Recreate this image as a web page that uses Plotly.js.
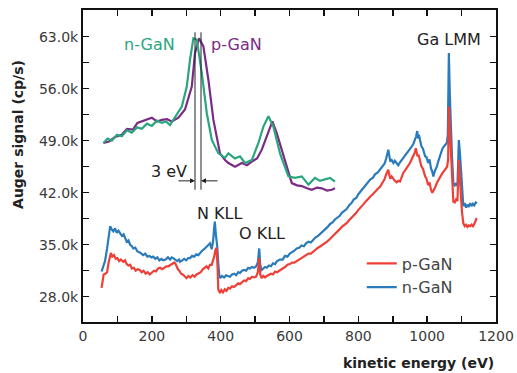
<!DOCTYPE html>
<html>
<head>
<meta charset="utf-8">
<script src="https://cdn.plot.ly/plotly-3.0.1.min.js"></script>
<style>html,body{margin:0;padding:0;background:#fff;}#chart{width:517px;height:373px;}</style>
</head>
<body>
<div id="chart"></div>
<script>
// Main spectra: kinetic energy (eV) and Auger signal (k cp/s)
const nGaN_E = [54,58,64,70,75,79,83,88,93,98,103,108,113,118,123,127,132,137,142,146,152,158,164,170,175,181,187,193,199,204,210,216,222,228,233,240,247,253,258,262,268,274,279,282,288,294,300,306,311,317,323,329,335,340,346,352,358,363,369,374,378,381,383,386,390,393,396,399,404,410,416,421,427,433,439,445,451,456,462,468,474,480,485,491,497,503,508,512,515,519,524,529,534,540,546,552,558,564,572,580,587,594,601,608,614,621,628,635,642,648,655,662,669,676,683,690,697,704,711,718,725,732,739,746,752,759,766,773,780,787,794,800,807,814,821,828,835,842,849,856,863,870,876,881,885,887,890,893,897,902,906,911,916,921,926,931,936,941,946,950,955,960,965,968,971,974,976,979,983,988,991,994,998,1003,1007,1011,1015,1018,1022,1025,1028,1032,1036,1040,1044,1048,1052,1057,1060,1063,1066,1069,1072,1076,1080,1084,1088,1090,1092,1095,1098,1101,1105,1109,1113,1117,1121,1125,1129,1133,1137,1141,1145];
const nGaN_S = [31.4,32.0,32.8,34.5,36.4,37.5,37.1,36.8,37.2,36.6,36.9,36.5,36.2,36.4,35.8,35.4,35.6,35.0,34.8,34.5,34.6,34.1,34.0,33.8,33.6,33.8,33.4,33.5,33.3,33.4,33.1,33.3,32.9,33.1,32.9,33.0,33.3,33.0,33.3,33.2,33.0,32.8,33.0,32.7,32.9,33.1,32.9,33.2,33.2,33.5,33.4,33.7,33.6,33.9,34.2,34.4,34.7,34.9,35.2,34.4,35.5,37.2,38.1,36.4,34.8,32.5,30.9,30.5,30.8,30.6,30.9,30.8,30.7,31.0,31.1,30.9,31.3,31.2,31.5,31.6,31.5,31.9,31.8,32.0,31.9,32.1,32.6,34.5,32.3,31.6,31.8,32.0,31.9,32.2,32.1,32.5,32.4,32.8,33.0,33.0,33.5,33.4,33.8,34.0,34.2,34.5,34.6,34.9,34.8,35.2,35.4,35.3,35.7,36.0,36.2,36.5,36.8,37.0,37.4,37.8,38.0,38.4,38.7,38.9,39.3,39.5,39.8,40.3,40.6,41.1,41.3,41.8,42.2,42.7,43.0,43.4,43.8,44.0,44.5,44.7,45.1,45.5,45.9,46.6,47.4,47.8,47.0,46.2,46.4,46.0,46.3,46.0,45.7,46.1,46.4,46.7,46.9,47.3,47.5,47.8,48.2,48.6,49.1,49.6,50.3,49.3,49.8,49.0,48.3,47.9,47.2,46.9,46.8,46.0,46.5,45.3,44.8,44.2,44.9,45.2,45.5,46.2,46.8,47.4,47.9,48.2,48.5,48.7,49.8,60.8,55.0,50.5,47.0,43.3,43.0,43.3,42.9,46.0,49.1,47.5,45.1,42.0,40.2,40.6,40.0,40.4,40.1,40.6,40.2,40.5,40.3,40.7,40.6];

const pGaN_E = [54,57,60,65,70,74,78,81,85,90,95,100,105,110,117,122,127,132,137,142,148,153,159,165,170,176,182,188,194,200,206,212,218,224,230,236,242,248,254,260,265,268,272,276,280,285,290,295,301,306,312,318,324,330,336,342,348,354,359,364,369,374,378,381,385,388,391,393,398,402,407,412,417,422,427,433,439,445,451,456,462,468,474,480,485,491,497,503,508,512,515,519,524,529,534,540,546,552,558,564,572,580,587,594,601,608,614,621,628,635,642,648,655,662,669,676,683,690,697,704,711,718,725,732,739,746,752,759,766,773,780,787,794,800,807,814,821,828,835,842,849,856,863,870,876,881,884,887,890,893,897,902,906,911,916,921,926,931,936,941,946,950,955,960,964,967,970,972,975,979,983,988,991,994,998,1003,1007,1011,1015,1019,1023,1028,1032,1036,1040,1044,1048,1053,1058,1061,1063,1066,1069,1072,1076,1080,1084,1088,1090,1092,1095,1097,1101,1105,1109,1113,1117,1121,1125,1129,1133,1137,1141,1144];
const pGaN_S = [29.2,30.5,31.0,31.1,31.3,32.5,33.6,33.9,33.4,33.6,33.1,33.2,32.8,33.0,32.7,32.9,32.4,32.2,32.3,31.8,31.9,31.5,31.7,31.6,31.3,31.5,31.1,31.3,31.0,31.3,31.5,31.4,31.8,31.9,31.7,31.9,32.1,32.1,32.3,32.4,32.6,32.5,32.0,31.7,31.5,31.1,31.0,30.7,30.5,30.8,30.6,30.9,30.7,31.0,31.2,31.3,31.7,31.9,32.1,31.8,32.3,32.3,32.8,33.4,34.3,34.6,32.0,29.0,28.5,28.9,28.6,29.0,28.8,29.2,29.1,29.4,29.3,29.6,29.8,29.7,30.0,30.2,30.1,30.5,30.4,30.7,30.6,30.7,31.3,33.2,31.0,30.5,30.8,30.6,30.8,30.9,31.1,31.0,31.4,31.3,31.6,31.8,32.0,32.3,32.4,32.6,32.6,32.8,33.1,33.2,33.5,33.6,33.8,33.8,34.1,34.4,34.6,34.8,35.0,35.3,35.5,35.8,36.1,36.5,36.8,37.1,37.4,37.6,37.9,38.3,38.6,39.0,39.3,39.7,40.0,40.4,40.8,41.2,41.5,41.8,42.2,42.5,42.8,43.3,43.8,44.5,44.9,45.1,44.4,43.9,44.2,43.8,43.6,43.4,43.6,43.5,44.2,44.7,45.0,45.3,45.7,46.0,46.5,46.9,47.4,48.0,47.3,46.9,47.1,46.2,45.6,45.2,44.6,44.2,43.9,43.0,43.4,42.4,42.0,42.3,42.7,43.3,43.7,44.0,44.3,44.6,44.9,45.2,45.5,46.5,53.6,50.5,48.0,44.0,40.8,40.7,41.1,40.9,43.5,46.4,44.0,42.0,39.5,37.9,37.5,37.7,37.4,37.6,37.5,37.7,37.5,37.8,38.2,38.6];

// Inset: N KLL region, energy (eV) vs signal (drawn on an expanded energy scale)
const inset_n_E = [333.2,335.3,337.4,340.0,342.4,345.0,347.4,350.0,352.4,355.0,357.4,360.0,362.4,364.5,366.5,369.0,372.4,374.9,376.5,378.2,379.9,382.4,384.9,387.4,390.7,394.0,395.7,399.0,401.5,404.0,407.4,410.7,413.2,415.7,418.2,421.5,425.7,429.0,432.4,435.7,439.0,441.5,444.0,446.5,449.0];
const inset_n_S = [48.7,49.3,49.0,49.8,49.6,50.4,50.1,50.8,50.6,51.3,51.0,51.7,51.4,51.6,51.1,52.1,53.6,56.3,59.9,62.8,62.6,58.1,52.7,49.1,47.3,46.7,47.3,46.6,46.9,46.0,46.4,48.7,50.9,52.3,50.9,47.3,44.2,44.0,44.2,43.1,44.0,43.6,43.8,44.0,43.5];
const inset_p_E = [333.2,336.0,339.0,342.4,345.0,348.0,350.2,352.4,355.0,357.4,360.0,362.4,365.0,367.4,370.7,374.0,377.4,379.0,381.0,383.2,385.7,388.2,391.5,394.0,395.7,399.0,402.4,405.0,407.4,410.0,412.4,415.7,417.7,419.9,424.0,427.4,430.0,432.4,435.0,437.4,440.0,442.4,445.0,447.4,449.0];
const inset_p_S = [48.7,48.9,49.5,49.8,50.6,50.5,51.4,51.6,51.9,52.1,51.6,51.8,51.9,51.6,52.1,53.2,56.3,60.8,62.8,61.7,57.2,51.8,47.3,46.4,46.0,45.5,46.0,45.7,46.2,46.6,47.8,50.0,51.6,50.0,46.4,43.3,43.0,42.9,42.6,42.4,42.7,42.6,42.3,42.4,42.6];

// Peak positions marked by the "3 eV" lines
const peakMarks = [379, 382];

// Axis ticks (every tick drawn, labels on the major ones)
const xTickVals = [0,100,200,300,400,500,600,700,800,900,1000,1100,1200];
const xTickText = ['0','','200','','400','','600','','800','','1000','','1200'];
const yTickVals = [24.5,28,31.5,35,38.5,42,45.5,49,52.5,56,59.5,63,66.5];
const yTickText = ['','28.0k','','35.0k','','42.0k','','49.0k','','56.0k','','63.0k',''];

const FONT = 'DejaVu Sans, Verdana, sans-serif';
const BLUE = '#2a7bbb', RED = '#ee4036', GREEN = '#2aa67e', PURPLE = '#7b2b86';

const traces = [
  {x: nGaN_E, y: nGaN_S, type: 'scatter', mode: 'lines', name: 'n-GaN',
   line: {color: BLUE, width: 2.2}},
  {x: pGaN_E, y: pGaN_S, type: 'scatter', mode: 'lines', name: 'p-GaN',
   line: {color: RED, width: 2.2}},
  {x: inset_p_E, y: inset_p_S, xaxis: 'x2', yaxis: 'y', type: 'scatter', mode: 'lines',
   name: 'p-GaN (inset)', showlegend: false, line: {color: PURPLE, width: 2.2}},
  {x: inset_n_E, y: inset_n_S, xaxis: 'x2', yaxis: 'y', type: 'scatter', mode: 'lines',
   name: 'n-GaN (inset)', showlegend: false, line: {color: GREEN, width: 2.2}}
];

const axLine = {showline: true, linecolor: '#111', linewidth: 2, mirror: 'ticks',
  ticks: 'inside', ticklen: 6, tickwidth: 1.5, tickcolor: '#111', showgrid: false, zeroline: false,
  tickfont: {family: FONT, size: 14, color: '#3a3a3a'}};

const layout = {
  width: 517, height: 373,
  margin: {l: 83, r: 21, t: 10, b: 51},
  paper_bgcolor: '#fff', plot_bgcolor: '#fff',
  font: {family: FONT},
  showlegend: true,
  legend: {x: 0.675, xanchor: 'left', y: 0.242, yanchor: 'top', traceorder: 'reversed',
    bgcolor: 'rgba(0,0,0,0)', font: {family: FONT, size: 16}, itemwidth: 30, tracegroupgap: 0},
  xaxis: Object.assign({}, axLine, {range: [0, 1200], tickmode: 'array', tickvals: xTickVals, ticktext: xTickText}),
  xaxis2: {overlaying: 'x', anchor: 'y', range: [323, 529.5], visible: false},
  yaxis: Object.assign({}, axLine, {range: [24.6, 66.6], tickmode: 'array', tickvals: yTickVals, ticktext: yTickText}),
  shapes: peakMarks.map(v => ({type: 'line', xref: 'x2', yref: 'y', x0: v, x1: v, y0: 42.4, y1: 63.6,
    line: {color: '#222', width: 1}})),
  annotations: [
    {xref: 'paper', yref: 'paper', x: 1, y: -0.13, xanchor: 'right', yanchor: 'middle', showarrow: false,
     text: '<b>kinetic energy (eV)</b>', font: {family: FONT, size: 14, color: '#222'}},
    {xref: 'paper', yref: 'paper', x: -0.157, xanchor: 'center', y: 0.6, yanchor: 'middle', showarrow: false,
     textangle: -90, text: '<b>Auger signal (cp/s)</b>', font: {family: FONT, size: 14, color: '#222'}},
    {xref: 'x2', yref: 'y', x: 370, y: 61.9, xanchor: 'right', showarrow: false, text: 'n-GaN',
     font: {family: FONT, size: 16, color: GREEN}},
    {xref: 'x2', yref: 'y', x: 386, y: 61.9, xanchor: 'left', showarrow: false, text: 'p-GaN',
     font: {family: FONT, size: 16, color: PURPLE}},
    {xref: 'x', yref: 'y', x: 1063, y: 62.6, xanchor: 'center', showarrow: false, text: 'Ga LMM',
     font: {family: FONT, size: 16, color: '#222'}},
    {xref: 'x', yref: 'y', x: 397, y: 39.2, xanchor: 'center', showarrow: false, text: 'N KLL',
     font: {family: FONT, size: 16, color: '#222'}},
    {xref: 'x', yref: 'y', x: 520, y: 36.5, xanchor: 'center', showarrow: false, text: 'O KLL',
     font: {family: FONT, size: 16, color: '#222'}},
    {xref: 'x2', yref: 'y', x: 376, y: 44.9, xanchor: 'right', showarrow: false, text: '3 eV',
     font: {family: FONT, size: 16, color: '#222'}},
    {xref: 'x2', yref: 'y', x: peakMarks[0], y: 43.6, ax: -18, ay: 0, showarrow: true, text: '',
     arrowhead: 2, arrowsize: 1, arrowwidth: 1, arrowcolor: '#222'},
    {xref: 'x2', yref: 'y', x: peakMarks[1], y: 43.6, ax: 18, ay: 0, showarrow: true, text: '',
     arrowhead: 2, arrowsize: 1, arrowwidth: 1, arrowcolor: '#222'}
  ]
};

Plotly.newPlot('chart', traces, layout, {staticPlot: true, displayModeBar: false});
</script>
</body>
</html>
